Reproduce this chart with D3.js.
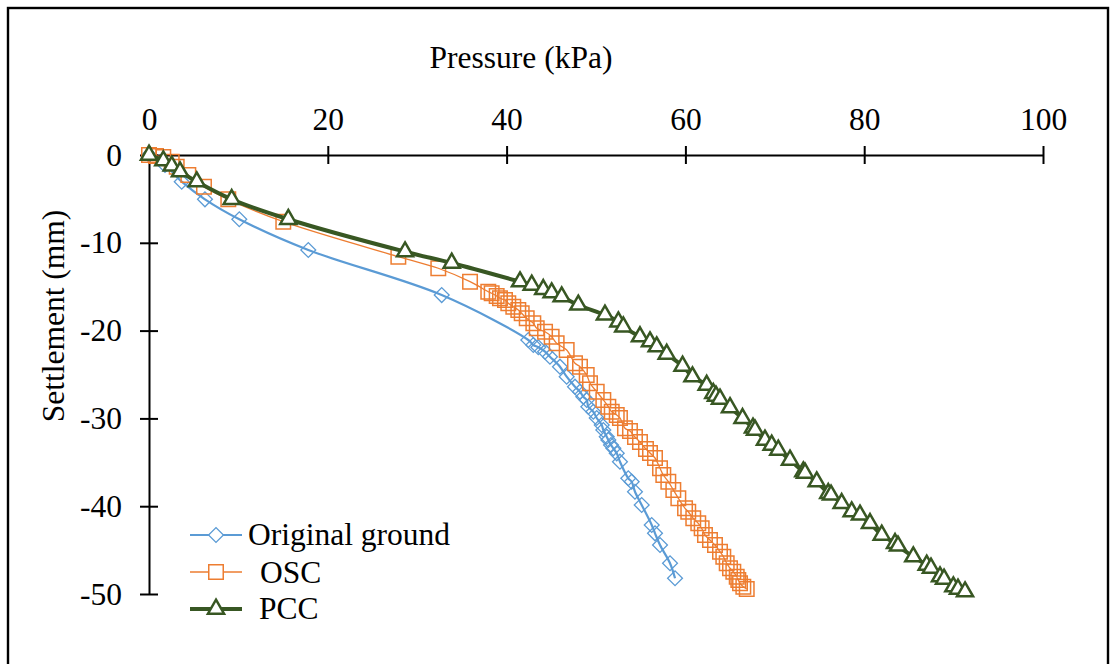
<!DOCTYPE html>
<html>
<head>
<meta charset="utf-8">
<script src="https://cdn.jsdelivr.net/npm/d3@7"></script>
<style>
  html, body { margin: 0; padding: 0; background: #fff; }
  svg { display: block; }
  text { font-family: "Liberation Serif", "Times New Roman", serif; fill: #000; }
</style>
</head>
<body>
<svg id="chart" width="1110" height="664"></svg>
<script>
// Plate load test: settlement (mm) against applied pressure (kPa)
const xTicks = [0, 20, 40, 60, 80, 100];
const yTicks = [0, -10, -20, -30, -40, -50];
const seriesNames = ["Original ground", "OSC", "PCC"];

// Original ground: [pressure, settlement]
const originalGround = [
  [0, 0], [1.79, -1.14], [3.66, -3.04], [6.26, -5.05], [10.1, -7.32], [17.82, -10.82],
  [32.74, -15.95], [42.43, -21.07], [42.99, -21.64], [43.55, -21.9], [44.3, -22.4],
  [44.85, -22.97], [45.97, -24.11], [46.72, -25.25], [47.65, -26.39], [48.21, -26.96],
  [48.58, -27.53], [48.96, -27.9], [49.14, -28.67], [49.7, -29.24], [50.08, -29.95],
  [50.64, -30.75], [50.82, -31.32], [51.2, -32.08], [51.38, -32.46], [51.68, -33.03],
  [51.94, -33.41], [52.32, -33.98], [52.68, -34.93], [53.61, -36.82], [53.99, -37.21],
  [54.36, -38.35], [55.11, -39.86], [56.23, -42.14], [56.6, -43.09], [57.16, -44.42],
  [58.28, -46.5], [58.84, -48.21]
];

// OSC: [pressure, settlement]
const osc = [
  [0, 0], [0.78, -0.11], [1.6, -0.23], [2.54, -0.76], [3.1, -1.33], [4.4, -2.28],
  [6.15, -3.61], [8.87, -5.05], [15.02, -7.6], [27.89, -11.58], [32.36, -12.9],
  [35.91, -14.43], [37.95, -15.57], [38.33, -15.75], [38.89, -16.06], [39.26, -16.32],
  [39.82, -16.51], [40.19, -16.89], [40.75, -17.28], [41.31, -17.65], [41.69, -18.03],
  [42.25, -18.6], [42.99, -19.17], [43.37, -19.74], [44.3, -20.13], [45.04, -20.69],
  [45.6, -21.45], [46.72, -22.21], [47.65, -23.72], [48.21, -24.11], [48.96, -25.06],
  [49.33, -26.0], [50.08, -26.96], [50.82, -27.9], [51.38, -28.67], [51.76, -29.24],
  [52.32, -29.61], [52.68, -29.95], [53.24, -31.13], [53.8, -31.44], [54.36, -32.12],
  [54.92, -32.69], [55.59, -33.49], [56.04, -33.94], [56.6, -34.51], [57.16, -35.68],
  [57.53, -36.45], [58.09, -37.21], [58.65, -38.15], [59.21, -39.1], [59.96, -40.24],
  [60.32, -40.63], [60.88, -41.38], [61.44, -41.95], [61.82, -42.52], [62.19, -43.28],
  [62.75, -43.85], [63.31, -44.42], [63.87, -45.18], [64.24, -45.75], [64.62, -46.5],
  [64.99, -47.07], [65.36, -47.46], [65.74, -48.03], [65.92, -48.41], [66.11, -48.78],
  [66.48, -49.17], [66.86, -49.43]
];

// PCC: [pressure, settlement]
const pcc = [
  [0, 0], [1.6, -0.65], [2.54, -1.25], [3.47, -1.9], [5.34, -3.04], [9.25, -5.05],
  [15.58, -7.32], [28.64, -11.01], [33.86, -12.3], [41.5, -14.43], [42.81, -14.81],
  [44.1, -15.3], [45.04, -15.68], [46.16, -16.14], [48.02, -17.08], [51.0, -18.22],
  [52.5, -18.99], [53.05, -19.56], [54.92, -20.69], [56.04, -21.26], [56.79, -21.83],
  [57.91, -22.67], [59.68, -24.03], [60.79, -25.25], [62.38, -26.2], [63.12, -27.14],
  [63.42, -27.45], [63.87, -27.79], [64.99, -28.76], [66.39, -29.99], [67.56, -31.09],
  [67.79, -31.32], [68.9, -32.46], [69.65, -33.03], [70.39, -33.6], [71.7, -34.74],
  [73.19, -36.07], [73.38, -36.22], [74.69, -37.21], [75.98, -38.53], [76.29, -38.72],
  [77.48, -39.67], [78.6, -40.63], [79.53, -41.0], [80.65, -41.95], [81.96, -43.28],
  [83.45, -44.23], [83.78, -44.53], [85.49, -45.75], [86.99, -46.7], [87.47, -47.04],
  [88.48, -48.03], [88.93, -48.29], [89.97, -49.17], [90.49, -49.43], [91.28, -49.74]
];

const svg = d3.select("#chart");
const FONT = 31.5;

// outer frame
svg.append("rect")
  .attr("x", 8).attr("y", 8).attr("width", 1100).attr("height", 720)
  .attr("fill", "none").attr("stroke", "#000").attr("stroke-width", 2.4);

const x = d3.scaleLinear().domain([0, 100]).range([149, 1043]);
const y = d3.scaleLinear().domain([-50, 0]).range([594, 155]);

// x axis along the top (settlement 0), ticks crossing the line
const xAxisG = svg.append("g")
  .attr("transform", `translate(0,${y(0)})`)
  .call(d3.axisTop(x).tickValues(xTicks).tickFormat(d => String(d)).tickSizeOuter(0));
xAxisG.select(".domain").attr("stroke", "#000").attr("stroke-width", 2);
xAxisG.selectAll(".tick line").attr("y1", -9).attr("y2", 9).attr("stroke", "#000").attr("stroke-width", 2);
xAxisG.selectAll(".tick text")
  .attr("y", -25.5).attr("dy", null)
  .style("font-size", FONT + "px").style("font-family", "Liberation Serif, serif");

// y axis at pressure 0
const yAxisG = svg.append("g")
  .attr("transform", `translate(${x(0)},0)`)
  .call(d3.axisLeft(y).tickValues(yTicks).tickFormat(d => String(d)).tickSizeOuter(0));
yAxisG.select(".domain").attr("stroke", "#000").attr("stroke-width", 2);
yAxisG.selectAll(".tick line").attr("x1", -9).attr("x2", 9).attr("stroke", "#000").attr("stroke-width", 2);
yAxisG.selectAll(".tick text")
  .attr("x", -27).attr("dy", "0.32em")
  .style("font-size", FONT + "px").style("font-family", "Liberation Serif, serif");

// axis titles
svg.append("text")
  .attr("x", 521).attr("y", 68)
  .attr("text-anchor", "middle")
  .style("font-size", FONT + "px")
  .text("Pressure (kPa)");

svg.append("text")
  .attr("transform", "translate(64,316) rotate(-90)")
  .attr("text-anchor", "middle")
  .style("font-size", FONT + "px")
  .text("Settlement (mm)");

// series styling
const series = [
  { name: seriesNames[0], data: originalGround, color: "#5B9BD5", lineWidth: 2.2,
    symbol: d3.symbolSquare, size: 110, rotate: 45, fill: "none", markerStroke: 1.3 },
  { name: seriesNames[1], data: osc, color: "#ED7D31", lineWidth: 1.3,
    symbol: d3.symbolSquare, size: 210, rotate: 0, fill: "none", markerStroke: 1.5 },
  { name: seriesNames[2], data: pcc, color: "#385723", lineWidth: 4,
    symbol: d3.symbolTriangle, size: 112, rotate: 0, fill: "#fff", markerStroke: 2.5 }
];

const line = d3.line()
  .x(d => x(d[0]))
  .y(d => y(d[1]))
  .curve(d3.curveCatmullRom.alpha(0.5));

series.forEach(s => {
  const g = svg.append("g");
  g.append("path")
    .attr("d", line(s.data))
    .attr("fill", "none")
    .attr("stroke", s.color)
    .attr("stroke-width", s.lineWidth)
    .attr("stroke-linejoin", "round");
  const sym = d3.symbol().type(s.symbol).size(s.size);
  g.selectAll("path.mark")
    .data(s.data)
    .join("path")
    .attr("class", "mark")
    .attr("d", sym)
    .attr("transform", d => `translate(${x(d[0])},${y(d[1])}) rotate(${s.rotate})`)
    .attr("fill", s.fill)
    .attr("stroke", s.color)
    .attr("stroke-width", s.markerStroke);
});

// legend
const legendRows = [
  { lineY: 535, textX: 248, baseY: 545 },
  { lineY: 572, textX: 260, baseY: 583 },
  { lineY: 609, textX: 259, baseY: 619 }
];
series.forEach((s, i) => {
  const r = legendRows[i];
  const g = svg.append("g");
  g.append("line")
    .attr("x1", 190).attr("x2", 242)
    .attr("y1", r.lineY).attr("y2", r.lineY)
    .attr("stroke", s.color).attr("stroke-width", s.lineWidth);
  g.append("path")
    .attr("d", d3.symbol().type(s.symbol).size(s.size)())
    .attr("transform", `translate(216,${r.lineY}) rotate(${s.rotate})`)
    .attr("fill", s.fill === "none" ? "#fff" : s.fill)
    .attr("stroke", s.color)
    .attr("stroke-width", s.markerStroke);
  g.append("text")
    .attr("x", r.textX).attr("y", r.baseY)
    .style("font-size", FONT + "px")
    .text(s.name);
});
</script>
</body>
</html>
